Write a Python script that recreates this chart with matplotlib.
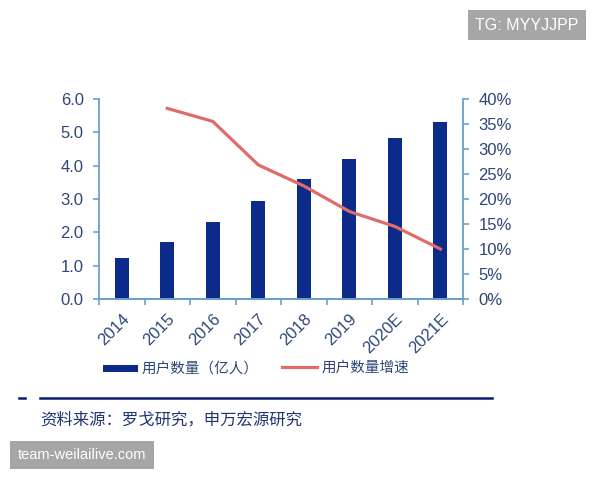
import matplotlib.pyplot as plt
import numpy as np

plt.rcParams['font.family'] = ['Liberation Sans', 'Noto Sans CJK SC', 'DejaVu Sans']

years = ['2014', '2015', '2016', '2017', '2018', '2019', '2020E', '2021E']
users = [1.24, 1.71, 2.31, 2.94, 3.59, 4.21, 4.84, 5.32]
growth_years = ['2015', '2016', '2017', '2018', '2019', '2020E', '2021E']
growth = [38.1, 35.5, 26.8, 22.6, 17.5, 14.5, 10.0]

bar_color = '#0B2A8A'
line_color = '#E06B6B'
axis_color = '#6A9FCB'
text_color = '#2E4677'

fig = plt.figure(figsize=(6, 4.8), dpi=100)
ax = fig.add_axes([0.165, 0.377, 0.607, 0.417])
ax2 = ax.twinx()

x = np.arange(len(years))
ax.bar(x, users, width=0.31, color=bar_color, zorder=2, label='用户数量（亿人）')
gx = [years.index(y) for y in growth_years]
ax2.plot(gx, growth, color=line_color, lw=2.3, zorder=3, label='用户数量增速')

ax.set_xlim(-0.5, len(years) - 0.5)
ax.set_ylim(0, 6)
ax2.set_ylim(0, 40)
ax.set_yticks(np.arange(0, 6.01, 1.0))
ax.set_yticklabels([f'{v:.1f}' for v in np.arange(0, 6.01, 1.0)])
ax2.set_yticks(np.arange(0, 41, 5))
ax2.set_yticklabels([f'{v}%' for v in range(0, 41, 5)])

ax.set_xticks(x)
ax.set_xticklabels(years, rotation=45, ha='right', va='top', rotation_mode='anchor')
ax.set_xticks(np.arange(-0.5, len(years)), minor=True)
ax.tick_params(axis='x', which='major', length=0, pad=9)
ax.tick_params(axis='x', which='minor', length=4, color=axis_color, width=1.2, direction='out')

for a in (ax, ax2):
    a.spines['top'].set_visible(False)
    for s in ('left', 'right', 'bottom'):
        a.spines[s].set_color(axis_color)
        a.spines[s].set_linewidth(1.3)
    a.tick_params(axis='y', colors=axis_color, labelcolor=text_color, labelsize=12,
                  length=4, width=1.2, pad=7)
ax.tick_params(axis='x', labelcolor=text_color, labelsize=12)
ax2.spines['left'].set_visible(False)
ax.spines['right'].set_visible(False)

h1, l1 = ax.get_legend_handles_labels()
h2, l2 = ax2.get_legend_handles_labels()
leg = fig.legend(h1 + h2, l1 + l2, loc='center left', bbox_to_anchor=(0.171, 0.233), ncol=2,
                 frameon=False, fontsize=10.5, handlelength=2.4, handletextpad=0.3,
                 columnspacing=1.6, borderpad=0, borderaxespad=0)
for t in leg.get_texts():
    t.set_color(text_color)
    t.set_family(['Noto Sans CJK SC', 'DejaVu Sans'])
leg.legend_handles[0].set_height(5)

fig.add_artist(plt.Line2D([40 / 600, 492 / 600], [1 - 398 / 480] * 2, color='#0B1F6E', lw=1.8))
fig.add_artist(plt.Line2D([19 / 600, 25 / 600], [1 - 398 / 480] * 2, color='#0B1F6E', lw=1.8))
fig.text(40 / 600, 1 - 420 / 480, '资料来源：罗戈研究，申万宏源研究', fontsize=11.8, color='#1F3570',
         va='center', ha='left', family=['Noto Sans CJK SC', 'DejaVu Sans'])

fig.text(527 / 600, 1 - 25 / 480, 'TG: MYYJJPP', fontsize=11.5, color='white', ha='center', va='center',
         bbox=dict(boxstyle='square,pad=0.45', facecolor='#A6A6A6', edgecolor='none'))
fig.text(82 / 600, 1 - 455 / 480, 'team-weilailive.com', fontsize=10.5, color='white', ha='center', va='center',
         bbox=dict(boxstyle='square,pad=0.5', facecolor='#A6A6A6', edgecolor='none'))

fig.savefig('out.png', dpi=100)
